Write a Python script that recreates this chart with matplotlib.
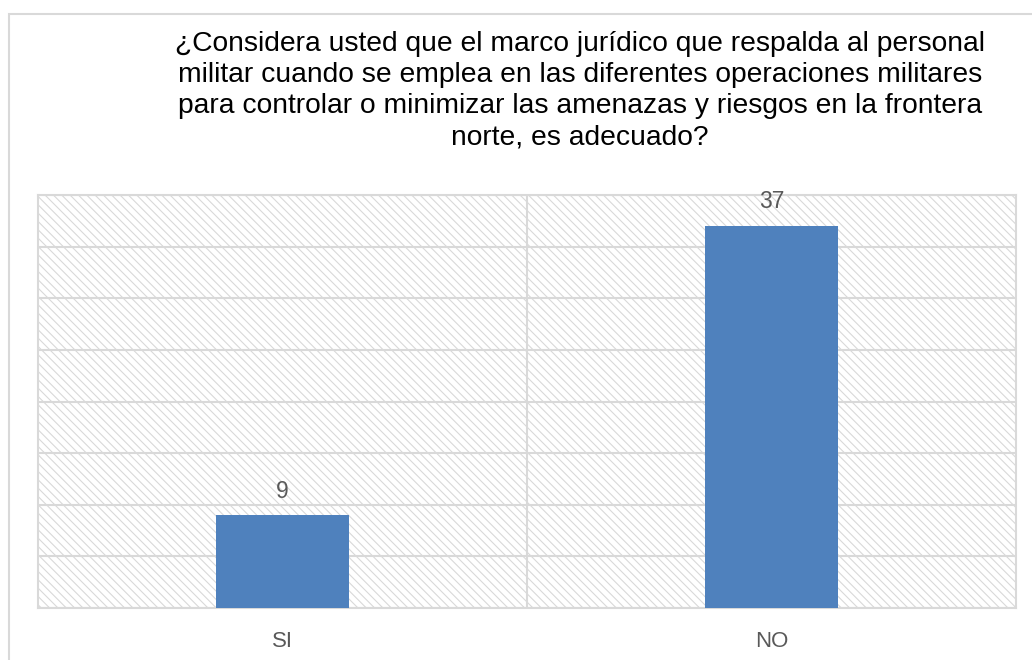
"""
Bar chart: respuestas SI / NO sobre el marco juridico en la frontera norte.
"""
import matplotlib.pyplot as plt
from matplotlib.patches import Rectangle

plt.rcParams['font.family'] = ['Liberation Sans', 'DejaVu Sans']
plt.rcParams['hatch.color'] = '#dadada'
plt.rcParams['hatch.linewidth'] = 0.8

categories = ['SI', 'NO']
values = [9, 37]
y_max = 40
y_step = 5

title = ('¿Considera usted que el marco jurídico que respalda al personal\n'
         'militar cuando se emplea en las diferentes operaciones militares\n'
         'para controlar o minimizar las amenazas y riesgos en la frontera\n'
         'norte, es adecuado?')

grid_color = '#d9d9d9'
bar_color = '#4f81bd'
text_color = '#595959'

fig = plt.figure(figsize=(10.32, 6.6), dpi=100)

# outer chart border (only left and top are visible in the picture)
fig.patches.append(Rectangle((9 / 1032, -0.1), 1.2, 1.1 - 14 / 660,
                             transform=fig.transFigure, fill=False,
                             edgecolor=grid_color, linewidth=1.5))

fig.text(580 / 1032, 1 - 90.5 / 660, title, ha='center', va='center',
         fontsize=20.3, color='black', linespacing=1.26)

ax = fig.add_axes([38 / 1032, 52 / 660, 978 / 1032, 413 / 660])
ax.patch.set_visible(False)
ax.add_patch(Rectangle((0, 0), 1, 1, transform=ax.transAxes, facecolor='white',
                       edgecolor=grid_color, hatch='\\\\\\\\', linewidth=0, zorder=0))

x = range(len(categories))
ax.bar(x, values, width=0.27, color=bar_color, zorder=3)
for xi, v in zip(x, values):
    ax.annotate(str(v), (xi, v), xytext=(0, 9), textcoords='offset points',
                ha='center', va='bottom', fontsize=16.5, color=text_color)

ax.set_xlim(-0.5, len(categories) - 0.5)
ax.set_ylim(0, y_max)
ax.set_yticks(range(0, y_max + 1, y_step))
ax.set_yticklabels([])
ax.yaxis.grid(True, color=grid_color, linewidth=1.5, zorder=1)
for b in range(1, len(categories)):
    ax.axvline(b - 0.5, color=grid_color, linewidth=1.5, zorder=1)

ax.set_xticks(list(x))
ax.set_xticklabels(categories, fontsize=16, color=text_color)
ax.tick_params(axis='both', length=0)
ax.tick_params(axis='x', pad=16.5)
for s in ax.spines.values():
    s.set_color(grid_color)
    s.set_linewidth(1.5)
ax.set_axisbelow(True)

fig.savefig('out.png', dpi=100)
